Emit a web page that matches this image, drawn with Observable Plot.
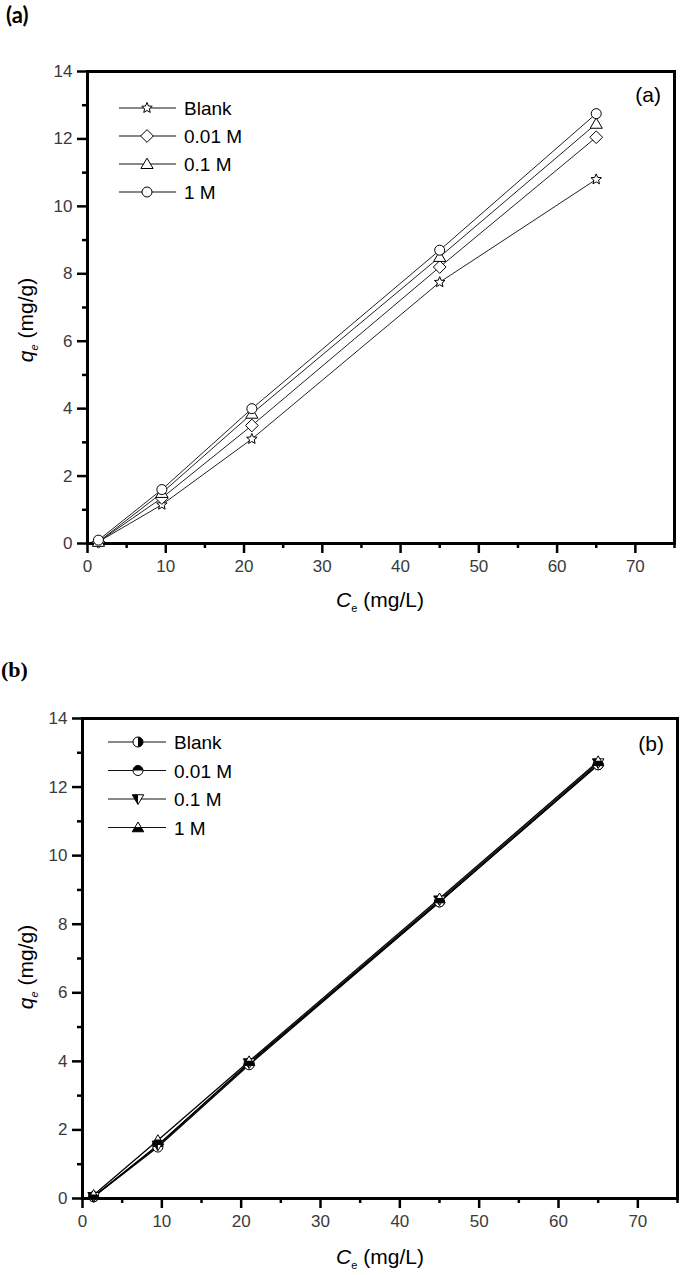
<!DOCTYPE html>
<html>
<head>
<meta charset="utf-8">
<script src="https://cdn.jsdelivr.net/npm/d3@7"></script>
<script src="https://cdn.jsdelivr.net/npm/@observablehq/plot@0.6"></script>
<style>
  html, body { margin: 0; padding: 0; background: #fff; }
  body { width: 680px; height: 1275px; position: relative; overflow: hidden; font-family: "Liberation Sans", Arial, sans-serif; }
  .panel { position: absolute; left: 0; z-index: 1; }
  .plabel { position: absolute; line-height: 1; color: #000; z-index: 5; }
</style>
</head>
<body>
<div class="plabel" style="left:6px;top:4px;font-family:Lato,'Open Sans',sans-serif;font-weight:bold;font-size:22px;">(a)</div>
<div id="pa" class="panel" style="top:0px;"></div>
<div class="plabel" style="left:1px;top:659px;font-family:'Liberation Serif','DejaVu Serif',serif;font-weight:bold;font-size:22px;">(b)</div>
<div id="pb" class="panel" style="top:640px;"></div>
<script>
// ---------------- data ----------------
const ce = [1.4, 9.5, 21, 45, 65];
const seriesNames = ["Blank", "0.01 M", "0.1 M", "1 M"];
// panel (a)
const qeA_blank = [0.05, 1.15, 3.1, 7.75, 10.8];
const qeA_001   = [0.05, 1.35, 3.5, 8.2, 12.05];
const qeA_01    = [0.05, 1.5, 3.85, 8.5, 12.45];
const qeA_1     = [0.1, 1.6, 4.0, 8.7, 12.75];
// panel (b)
const qeB_blank = [0.05, 1.55, 3.95, 8.65, 12.65];
const qeB_001   = [0.05, 1.5, 3.9, 8.65, 12.65];
const qeB_01    = [0.05, 1.55, 3.95, 8.7, 12.7];
const qeB_1     = [0.1, 1.7, 4.0, 8.75, 12.75];
// ticks
const xTicks = [0, 10, 20, 30, 40, 50, 60, 70];
const xMinor = [5, 15, 25, 35, 45, 55, 65, 75];
const yTicks = [0, 2, 4, 6, 8, 10, 12, 14];
const yMinor = [1, 3, 5, 7, 9, 11, 13];

function table(cols) {
  const rows = [];
  cols.forEach((vals, s) => vals.forEach((q, i) => rows.push({series: seriesNames[s], ce: ce[i], qe: q})));
  return rows;
}
const dataA = table([qeA_blank, qeA_001, qeA_01, qeA_1]);
const dataB = table([qeB_blank, qeB_001, qeB_01, qeB_1]);

// ---------------- symbols ----------------
function sym(fn) { return {draw(ctx, size) { fn(ctx, Math.sqrt(size / Math.PI)); }}; }
const circleFull = sym((c, r) => { c.moveTo(r, 0); c.arc(0, 0, r, 0, 2 * Math.PI); c.closePath(); });
const circleRight = sym((c, r) => { c.moveTo(0, -r); c.arc(0, 0, r, -Math.PI / 2, Math.PI / 2); c.closePath(); });
const circleTop = sym((c, r) => { c.moveTo(-r, 0); c.arc(0, 0, r, Math.PI, 2 * Math.PI); c.closePath(); });
const triUp = sym((c, r) => { c.moveTo(0, -r * 1.1); c.lineTo(r * 1.15, r * 0.85); c.lineTo(-r * 1.15, r * 0.85); c.closePath(); });
const triUpBottom = sym((c, r) => {
  const top = -r * 1.1, bot = r * 0.85, s = r * 1.15, ym = (top + bot) / 2, w = s * (ym - top) / (bot - top);
  c.moveTo(-w, ym); c.lineTo(w, ym); c.lineTo(s, bot); c.lineTo(-s, bot); c.closePath();
});
const triDown = sym((c, r) => { c.moveTo(0, r * 1.1); c.lineTo(r * 1.15, -r * 0.85); c.lineTo(-r * 1.15, -r * 0.85); c.closePath(); });
const triDownLeft = sym((c, r) => { c.moveTo(0, r * 1.1); c.lineTo(0, -r * 0.85); c.lineTo(-r * 1.15, -r * 0.85); c.closePath(); });
const diamond = sym((c, r) => { const d = r * 1.2; c.moveTo(0, -d); c.lineTo(d, 0); c.lineTo(0, d); c.lineTo(-d, 0); c.closePath(); });
const star = sym((c, r) => {
  const R = r * 1.15, ri = R * 0.45;
  for (let i = 0; i < 10; i++) {
    const a = -Math.PI / 2 + i * Math.PI / 5, rr = i % 2 ? ri : R;
    const x = rr * Math.cos(a), y = rr * Math.sin(a);
    if (i) c.lineTo(x, y); else c.moveTo(x, y);
  }
  c.closePath();
});

// marker specs: [symbol, r, halfSymbol|null]
const markersA = [[star, 4.8, null], [diamond, 5.3, null], [triUp, 5.3, null], [circleFull, 5, null]];
const markersB = [[circleFull, 5, circleRight], [circleFull, 5, circleTop], [triDown, 5, triDownLeft], [triUp, 5, triUpBottom]];

function symPath(s, r) { const p = d3.path(); s.draw(p, r * r * Math.PI); return p.toString(); }

function makePanel(data, markers, opts) {
  const marks = [
    Plot.frame({strokeWidth: 3, stroke: "#000"}),
    Plot.axisX(xTicks, {tickSize: 10, tickPadding: 6, strokeWidth: 2.5, fontSize: 17, fill: "#3a3a3a", stroke: "#000", label: null}),
    Plot.axisX(xMinor, {tickSize: 5, tickFormat: () => "", strokeWidth: 2.5, stroke: "#000", label: null}),
    Plot.axisY(yTicks, {tickSize: 10, tickPadding: 5, strokeWidth: 2.5, fontSize: 17, fill: "#3a3a3a", stroke: "#000", label: null}),
    Plot.axisY(yMinor, {tickSize: 5, tickFormat: () => "", strokeWidth: 2.5, stroke: "#000", label: null}),
    Plot.line(data, {x: "ce", y: "qe", z: "series", stroke: opts.lineColor, strokeWidth: opts.lineWidth})
  ];
  seriesNames.forEach((name, s) => {
    const [shape, r, half] = markers[s];
    const sub = data.filter(d => d.series === name);
    marks.push(Plot.dot(sub, {x: "ce", y: "qe", symbol: shape, r, fill: "white", stroke: "#000", strokeWidth: 1}));
    if (half) marks.push(Plot.dot(sub, {x: "ce", y: "qe", symbol: half, r, fill: "#000", stroke: "none"}));
  });
  const svg = Plot.plot({
    width: 680, height: opts.height,
    marginLeft: opts.ml, marginRight: opts.mr, marginTop: opts.mt, marginBottom: opts.mb,
    x: {domain: [0, 75]},
    y: {domain: [0, 14]},
    style: {background: "white", fontFamily: "'Liberation Sans', Arial, sans-serif", color: "#000"},
    marks
  });
  const g = d3.select(svg);
  // legend
  const L = opts.legend;
  const lg = g.append("g").attr("font-size", 19).attr("fill", "#000").attr("text-anchor", "start");
  seriesNames.forEach((name, s) => {
    const y = L.y0 + s * L.dy;
    const [shape, r, half] = markers[s];
    lg.append("line").attr("x1", L.x1).attr("x2", L.x2).attr("y1", y).attr("y2", y).attr("stroke", "#111").attr("stroke-width", 1);
    lg.append("path").attr("transform", `translate(${L.xm},${y})`).attr("d", symPath(shape, r)).attr("fill", "white").attr("stroke", "#000").attr("stroke-width", 1);
    if (half) lg.append("path").attr("transform", `translate(${L.xm},${y})`).attr("d", symPath(half, r)).attr("fill", "#000");
    lg.append("text").attr("x", L.xt).attr("y", y + 7).attr("text-anchor", "start").text(name);
  });
  // inner panel label
  g.append("text").attr("x", opts.tag.x).attr("y", opts.tag.y).attr("text-anchor", "end").attr("font-size", 21).attr("fill", "#000").text(opts.tag.text);
  // x title
  const xt = g.append("text").attr("x", opts.xTitle.x).attr("y", opts.xTitle.y).attr("text-anchor", "middle").attr("font-size", 21).attr("fill", "#000");
  xt.append("tspan").attr("font-style", "italic").text("C");
  xt.append("tspan").attr("font-size", 11).attr("dy", 5).text("e");
  xt.append("tspan").attr("dy", -5).text(" (mg/L)");
  // y title
  const yt = g.append("text").attr("transform", `translate(${opts.yTitle.x},${opts.yTitle.y}) rotate(-90)`).attr("text-anchor", "middle").attr("font-size", 21).attr("fill", "#000");
  yt.append("tspan").attr("font-style", "italic").text("q");
  yt.append("tspan").attr("font-size", 11).attr("font-style", "italic").attr("dy", 5).text("e");
  yt.append("tspan").attr("dy", -5).text(" (mg/g)");
  return svg;
}

document.getElementById("pa").appendChild(makePanel(dataA, markersA, {
  height: 630, ml: 87, mr: 6, mt: 71, mb: 87,
  lineColor: "#222", lineWidth: 1,
  legend: {x1: 119, x2: 176, xm: 147, xt: 184, y0: 108, dy: 28},
  tag: {x: 661, y: 102, text: "(a)"},
  xTitle: {x: 380, y: 607},
  yTitle: {x: 33, y: 320}
}));

document.getElementById("pb").appendChild(makePanel(dataB, markersB, {
  height: 635, ml: 82, mr: 3, mt: 78, mb: 77,
  lineColor: "#000", lineWidth: 1.3,
  legend: {x1: 108, x2: 166, xm: 138, xt: 174, y0: 102, dy: 28.5},
  tag: {x: 664, y: 111, text: "(b)"},
  xTitle: {x: 380, y: 624},
  yTitle: {x: 33, y: 327}
}));
</script>
</body>
</html>
